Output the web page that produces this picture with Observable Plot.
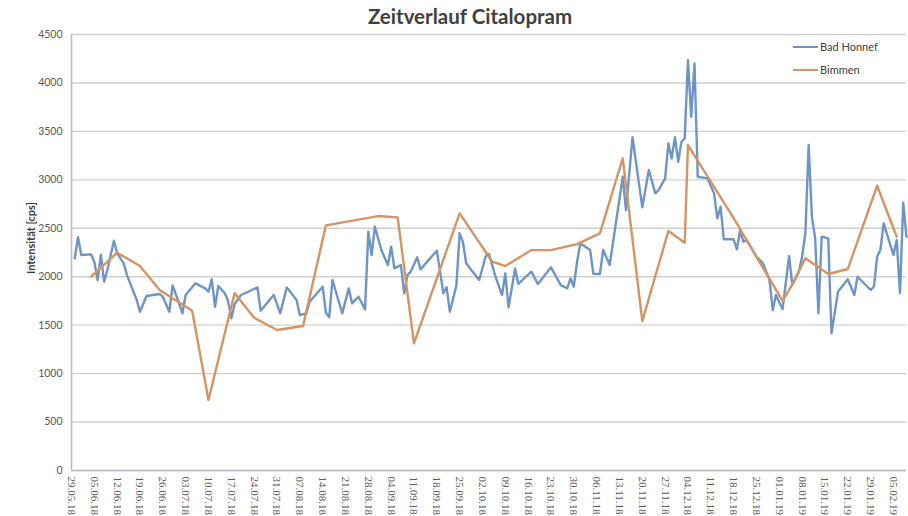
<!DOCTYPE html>
<html>
<head>
<meta charset="utf-8">
<script src="https://cdn.jsdelivr.net/npm/d3@7"></script>
<script src="https://cdn.jsdelivr.net/npm/@observablehq/plot@0.6"></script>
<style>
  body { margin: 0; background: #fff; }
  #wrap { position: relative; width: 908px; height: 516px; overflow: hidden; background: #fff; }
  #title { position: absolute; left: 0; width: 940px; top: 4px; text-align: center;
           font-family: Lato, "Liberation Sans", sans-serif; font-weight: 700; font-size: 20.5px; color: #404040; }
  #ylabel { position: absolute; left: 30px; top: 238px; transform: translate(-50%, -50%) rotate(-90deg);
            font-family: Lato, "Liberation Sans", sans-serif; font-weight: 700; font-size: 11px; color: #404040; white-space: nowrap; }
  .leg { position: absolute; left: 793px; font-family: Lato, "Liberation Sans", sans-serif; font-size: 11px; color: #404040; white-space: nowrap; }
  .leg span.sw { display: inline-block; width: 25px; height: 2.5px; vertical-align: middle; margin-right: 2px; position: relative; top: -1px; }
</style>
</head>
<body>
<div id="wrap">
  <div id="chart"></div>
  <div id="title"></div>
  <div id="ylabel"></div>
  <div id="legend"></div>
</div>
<script>
const chartTitle = "Zeitverlauf Citalopram";
const yLabel = "Intensität [cps]";
const seriesNames = ["Bad Honnef", "Bimmen"];
const seriesColors = ["#6f95c4", "#d49463"];

const yTicks = [0, 500, 1000, 1500, 2000, 2500, 3000, 3500, 4000, 4500];
const xTickLabels = ["29.05.18","05.06.18","12.06.18","19.06.18","26.06.18","03.07.18","10.07.18","17.07.18","24.07.18","31.07.18","07.08.18","14.08.18","21.08.18","28.08.18","04.09.18","11.09.18","18.09.18","25.09.18","02.10.18","09.10.18","16.10.18","23.10.18","30.10.18","06.11.18","13.11.18","20.11.18","27.11.18","04.12.18","11.12.18","18.12.18","25.12.18","01.01.19","08.01.19","15.01.19","22.01.19","29.01.19","05.02.19"];
const xDomain = ["29.05.18", "09.02.19"];

const badHonnefDates = ["30.05.18","31.05.18","01.06.18","04.06.18","05.06.18","06.06.18","07.06.18","08.06.18","09.06.18","11.06.18","12.06.18","14.06.18","15.06.18","18.06.18","19.06.18","21.06.18","25.06.18","26.06.18","28.06.18","29.06.18","01.07.18","02.07.18","03.07.18","06.07.18","09.07.18","10.07.18","11.07.18","12.07.18","13.07.18","15.07.18","16.07.18","17.07.18","18.07.18","20.07.18","25.07.18","26.07.18","30.07.18","01.08.18","03.08.18","06.08.18","07.08.18","09.08.18","10.08.18","14.08.18","15.08.18","16.08.18","17.08.18","20.08.18","22.08.18","23.08.18","25.08.18","27.08.18","28.08.18","29.08.18","30.08.18","01.09.18","03.09.18","04.09.18","05.09.18","07.09.18","08.09.18","09.09.18","10.09.18","12.09.18","13.09.18","18.09.18","19.09.18","20.09.18","21.09.18","22.09.18","24.09.18","25.09.18","26.09.18","27.09.18","29.09.18","01.10.18","03.10.18","04.10.18","06.10.18","08.10.18","09.10.18","10.10.18","12.10.18","13.10.18","17.10.18","19.10.18","23.10.18","26.10.18","28.10.18","29.10.18","30.10.18","31.10.18","01.11.18","04.11.18","05.11.18","07.11.18","08.11.18","10.11.18","14.11.18","15.11.18","17.11.18","20.11.18","22.11.18","24.11.18","25.11.18","27.11.18","28.11.18","29.11.18","30.11.18","01.12.18","02.12.18","03.12.18","04.12.18","05.12.18","06.12.18","07.12.18","10.12.18","12.12.18","13.12.18","14.12.18","15.12.18","18.12.18","19.12.18","20.12.18","21.12.18","22.12.18","25.12.18","27.12.18","29.12.18","30.12.18","31.12.18","02.01.19","04.01.19","05.01.19","07.01.19","08.01.19","09.01.19","10.01.19","11.01.19","12.01.19","13.01.19","14.01.19","16.01.19","17.01.19","19.01.19","22.01.19","24.01.19","25.01.19","29.01.19","30.01.19","31.01.19","01.02.19","02.02.19","05.02.19","06.02.19","07.02.19","08.02.19","09.02.19"];
const badHonnefValues = [2190,2407,2224,2231,2155,1966,2224,1949,2069,2371,2241,2138,2017,1760,1639,1801,1822,1794,1639,1911,1725,1622,1811,1932,1880,1845,1973,1690,1904,1829,1752,1570,1718,1811,1890,1649,1811,1622,1890,1759,1605,1622,1742,1897,1630,1581,1966,1622,1880,1725,1794,1663,2464,2224,2516,2276,2121,2310,2086,2121,1829,2017,2052,2200,2076,2268,2052,1829,1890,1639,1911,2448,2361,2138,2052,1966,2214,2234,2000,1811,2035,1684,2086,1925,2052,1925,2097,1914,1880,1983,1897,2155,2345,2276,2030,2028,2276,2121,3032,2688,3439,2716,3101,2860,2895,3015,3376,3220,3439,3187,3393,3428,4236,3651,4202,3032,3015,2860,2602,2722,2386,2386,2282,2482,2361,2379,2207,2138,1966,1656,1811,1663,2214,1914,2052,2207,2448,3359,2619,2396,1622,2413,2396,1416,1845,1973,1811,2000,1863,1897,2207,2276,2551,2224,2379,1829,2764,2413];

const bimmenDates = ["04.06.18","12.06.18","19.06.18","25.06.18","05.07.18","10.07.18","18.07.18","24.07.18","31.07.18","08.08.18","15.08.18","31.08.18","06.09.18","11.09.18","25.09.18","05.10.18","09.10.18","17.10.18","23.10.18","31.10.18","07.11.18","14.11.18","20.11.18","28.11.18","03.12.18","04.12.18","18.12.18","02.01.19","05.01.19","09.01.19","16.01.19","22.01.19","31.01.19","06.02.19"];
const bimmenValues = [2000,2248,2110,1863,1649,727,1829,1577,1450,1491,2530,2626,2613,1313,2654,2155,2110,2275,2275,2337,2448,3222,1542,2472,2351,3359,2605,1750,1922,2190,2028,2080,2939,2413];

const parse = d3.utcParse("%d.%m.%y");
const fmt = d3.utcFormat("%d.%m.%y");
const badHonnef = badHonnefDates.map((d, i) => ({date: parse(d), value: badHonnefValues[i]}));
const bimmen = bimmenDates.map((d, i) => ({date: parse(d), value: bimmenValues[i]}));
const xTicks = xTickLabels.map(parse);
const domain = xDomain.map(parse);

const chart = Plot.plot({
  width: 908,
  height: 516,
  marginLeft: 71,
  marginRight: 2,
  marginTop: 34,
  marginBottom: 46,
  style: {background: "transparent", fontFamily: "Lato, 'Liberation Sans', sans-serif"},
  x: {type: "utc", domain: domain},
  y: {domain: [0, 4500]},
  marks: [
    Plot.gridY(yTicks, {stroke: "#d0d0d0", strokeOpacity: 1, strokeWidth: 1.4}),
    Plot.axisY(yTicks, {tickSize: 0, tickPadding: 9, tickFormat: d => String(d), fontSize: 10.5, fill: "#595959", label: null}),
    Plot.axisX(xTicks, {tickSize: 0, tickPadding: 6, tickRotate: 90, tickFormat: fmt, fontSize: 11, fill: "#5a5a5a", fontFamily: "'Liberation Serif', serif", label: null}),
    Plot.ruleY([0], {stroke: "#bdbdbd", strokeWidth: 1.6}),
    Plot.ruleX([domain[0]], {stroke: "#bdbdbd", strokeWidth: 1.6}),
    Plot.lineY(badHonnef, {x: "date", y: "value", stroke: seriesColors[0], strokeWidth: 2.4, strokeLinejoin: "round"}),
    Plot.lineY(bimmen, {x: "date", y: "value", stroke: seriesColors[1], strokeWidth: 2.4, strokeLinejoin: "round"})
  ]
});
document.getElementById("chart").appendChild(chart);
document.getElementById("title").textContent = chartTitle;
document.getElementById("ylabel").textContent = yLabel;
const legend = document.getElementById("legend");
seriesNames.forEach((name, i) => {
  const div = document.createElement("div");
  div.className = "leg";
  div.style.top = (40 + i * 23) + "px";
  div.innerHTML = `<span class="sw" style="background:${seriesColors[i]}"></span>${name}`;
  legend.appendChild(div);
});
</script>
</body>
</html>
